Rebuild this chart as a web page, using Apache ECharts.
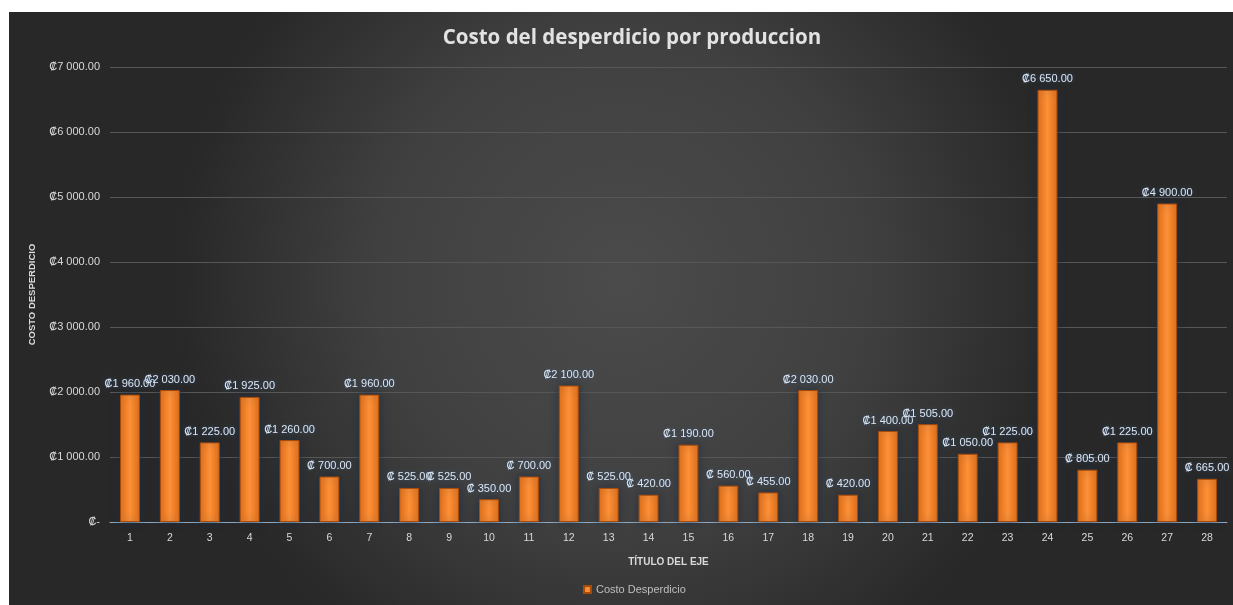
<!DOCTYPE html>
<html>
<head>
<meta charset="utf-8">
<script src="https://cdn.jsdelivr.net/npm/echarts@6/dist/echarts.min.js"></script>
<style>
  html, body { margin: 0; padding: 0; background: #ffffff; }
  #chart { width: 1233px; height: 605px; }
</style>
</head>
<body>
<div id="chart"></div>
<script>
// Production runs and the cost of waste for each one (colones)
const categories = ['1','2','3','4','5','6','7','8','9','10','11','12','13','14','15','16','17','18','19','20','21','22','23','24','25','26','27','28'];
const costoDesperdicio = [1960, 2030, 1225, 1925, 1260, 700, 1960, 525, 525, 350, 700, 2100, 525, 420, 1190, 560, 455, 2030, 420, 1400, 1505, 1050, 1225, 6650, 805, 1225, 4900, 665];
const yTicks = [0, 1000, 2000, 3000, 4000, 5000, 6000, 7000];

// Accounting-style currency: ₡1 960.00, ₡ 700.00, ₡- for zero
function colones(v) {
  if (v === 0) return '₡-';
  const whole = Math.floor(v);
  let s;
  if (whole >= 1000) {
    s = Math.floor(whole / 1000) + ' ' + String(whole % 1000).padStart(3, '0');
  } else {
    s = ' ' + whole;
  }
  return '₡' + s + '.00';
}

const chart = echarts.init(document.getElementById('chart'), null, { renderer: 'canvas' });

const textCol = '#d9d9d9';
const fontFam = '"Liberation Sans", "DejaVu Sans", sans-serif';

chart.setOption({
  backgroundColor: '#ffffff',
  graphic: [{
    type: 'rect',
    z: -10,
    silent: true,
    shape: { x: 9, y: 12, width: 1224, height: 593 },
    style: {
      fill: {
        type: 'radial', x: 0.5, y: 0.45, r: 0.75,
        colorStops: [
          { offset: 0, color: '#4b4b4b' },
          { offset: 0.55, color: '#404040' },
          { offset: 1, color: '#282828' }
        ]
      }
    }
  }],
  title: {
    text: 'Costo del desperdicio por produccion',
    left: 627,
    top: 23,
    textAlign: 'center',
    textStyle: {
      color: '#e2e2e2',
      fontSize: 20.5,
      fontWeight: 'bold',
      fontFamily: '"Open Sans", "DejaVu Sans", sans-serif'
    }
  },
  legend: {
    data: ['Costo Desperdicio'],
    bottom: 5,
    left: 578,
    icon: 'rect',
    itemWidth: 7,
    itemHeight: 7,
    itemGap: 5,
    textStyle: { color: '#bfbfbf', fontSize: 11, fontFamily: fontFam }
  },
  grid: { left: 110, right: 6, top: 67, bottom: 83 },
  xAxis: {
    type: 'category',
    data: categories,
    name: 'TÍTULO DEL EJE',
    nameLocation: 'middle',
    nameGap: 35,
    nameTextStyle: { color: textCol, fontSize: 10, fontWeight: 'bold', fontFamily: fontFam },
    axisLine: { lineStyle: { color: '#8eaac2', width: 1 } },
    axisTick: { show: false },
    axisLabel: { color: textCol, fontSize: 10.5, margin: 11, fontFamily: fontFam }
  },
  yAxis: {
    type: 'value',
    min: yTicks[0],
    max: yTicks[yTicks.length - 1],
    interval: 1000,
    name: 'COSTO DESPERDICIO',
    nameLocation: 'middle',
    nameGap: 73,
    nameTextStyle: { color: textCol, fontSize: 9.5, fontWeight: 'bold', fontFamily: fontFam },
    axisLine: { show: false },
    axisTick: { show: false },
    splitLine: { lineStyle: { color: '#575757', width: 1 } },
    axisLabel: {
      color: textCol,
      fontSize: 11,
      margin: 10,
      fontFamily: fontFam,
      formatter: v => colones(v)
    }
  },
  series: [{
    name: 'Costo Desperdicio',
    type: 'bar',
    data: costoDesperdicio,
    barWidth: '50%',
    itemStyle: {
      color: {
        type: 'linear', x: 0, y: 0, x2: 1, y2: 0,
        colorStops: [
          { offset: 0, color: '#ee7418' },
          { offset: 0.5, color: '#ff9238' },
          { offset: 1, color: '#ee7418' }
        ]
      },
      borderColor: '#a84a08',
      borderWidth: 1,
      shadowColor: 'rgba(25, 45, 70, 0.75)',
      shadowBlur: 8
    },
    label: {
      show: true,
      position: 'top',
      distance: 5,
      color: '#dfe5ec',
      fontSize: 11,
      fontFamily: fontFam,
      textShadowColor: 'rgba(40, 80, 130, 0.9)',
      textShadowBlur: 3,
      formatter: p => colones(p.value)
    }
  }]
});
</script>
</body>
</html>
